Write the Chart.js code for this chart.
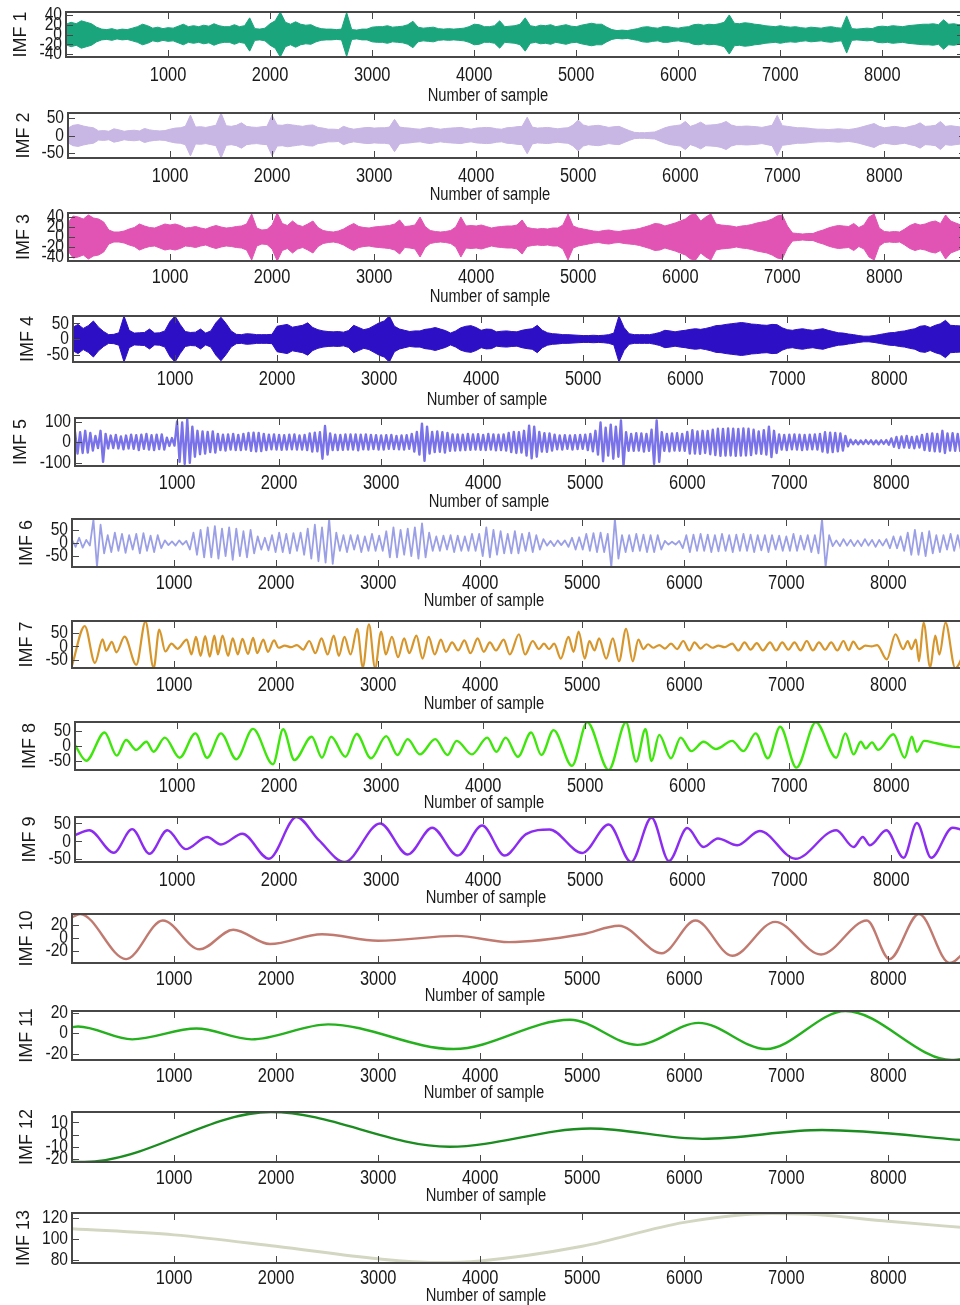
<!DOCTYPE html>
<html>
<head>
<meta charset="utf-8">
<title>IMF decomposition</title>
<script src="https://cdn.jsdelivr.net/npm/chart.js@4.4.1/dist/chart.umd.min.js"></script>
<style>
  html, body { margin: 0; padding: 0; background: #fff; overflow: hidden; }
  #wrap { position: relative; width: 960px; height: 1305px; overflow: hidden; }
  #wrap canvas { position: absolute; left: 0; }
</style>
</head>
<body>
<div id="wrap"></div>
<script>
// ---------- data ----------
const SAMPLE_MAX = 8800;
const xTicks = [1000, 2000, 3000, 4000, 5000, 6000, 7000, 8000];
const xTitle = 'Number of sample';

// y tick labels of each component
const imf1Ticks = [40, 20, 0, -20, -40];
const imf2Ticks = [50, 0, -50];
const imf3Ticks = [40, 20, 0, -20, -40];
const imf4Ticks = [50, 0, -50];
const imf5Ticks = [100, 0, -100];
const imf6Ticks = [50, 0, -50];
const imf7Ticks = [50, 0, -50];
const imf8Ticks = [50, 0, -50];
const imf9Ticks = [50, 0, -50];
const imf10Ticks = [20, 0, -20];
const imf11Ticks = [20, 0, -20];
const imf12Ticks = [10, 0, -10, -20];
const imf13Ticks = [120, 100, 80];

// IMF 1-4: oscillation envelope (peak amplitude), one value every BAND_STEP samples
const BAND_STEP = 50;
const imf1Amp = [
  21,25,22,28,25,22,15,11,10,12,9,11,10,13,16,21,18,13,15,12,
  14,13,17,21,16,18,16,19,17,22,18,16,16,20,16,18,34,12,11,13,
  22,28,46,25,21,26,21,19,20,15,12,11,11,10,11,45,10,9,11,11,
  15,16,16,18,15,16,17,20,27,15,13,14,15,12,11,12,11,12,13,16,
  21,20,16,16,18,28,16,17,18,21,34,18,16,19,18,20,16,18,20,17,
  16,19,21,23,21,21,15,10,8,9,8,10,12,15,16,14,13,16,16,14,
  13,15,16,20,21,19,21,20,22,25,40,23,22,24,23,21,20,18,17,16,
  18,16,15,16,14,13,15,14,13,15,16,14,13,38,12,11,12,13,12,16,
  17,16,18,17,16,18,19,20,21,21,22,20,30,21,22,20,21
];
const imf2Amp = [
  21,29,31,27,24,22,13,14,12,19,16,12,14,15,13,20,16,14,13,14,
  18,21,22,26,58,24,25,23,26,29,64,28,26,29,36,26,24,23,25,26,
  58,30,29,32,30,28,26,29,30,23,21,18,18,17,26,21,18,20,22,23,
  21,22,22,24,46,24,22,21,19,18,21,23,20,18,20,21,22,23,20,18,
  21,22,23,22,19,18,22,23,25,26,52,24,21,22,23,21,19,21,22,30,
  44,30,26,28,29,26,23,25,26,20,14,9,8,8,9,10,16,22,26,28,
  30,40,26,31,38,29,30,31,34,40,30,26,26,27,26,25,23,26,29,57,
  28,26,24,22,22,21,19,18,18,17,18,19,18,17,19,22,26,30,34,26,
  22,24,26,24,22,26,29,36,26,27,29,40,26,28,26,24,25
];
const imf3Amp = [
  28,42,40,36,44,38,36,30,14,10,10,12,16,19,26,22,19,18,22,26,
  24,26,23,18,19,21,18,16,20,23,20,18,19,21,22,26,46,18,14,15,
  24,48,27,23,32,24,21,26,32,19,13,11,10,12,16,22,27,21,19,18,
  20,21,22,23,26,34,21,22,24,40,21,13,11,10,11,13,20,40,22,23,
  22,24,21,18,20,21,22,22,24,34,19,17,16,17,16,18,18,24,46,22,
  18,16,14,12,11,13,14,12,11,13,14,15,17,20,23,27,26,22,25,28,
  32,36,44,46,32,40,46,26,24,23,22,20,22,23,25,28,30,32,36,42,
  44,22,8,7,6,7,7,11,14,18,21,23,22,21,27,19,24,40,46,18,
  11,10,11,10,16,23,27,24,26,30,32,27,44,32,28,24,26
];
const imf4Amp = [
  38,47,34,43,58,38,24,14,15,20,74,28,19,20,21,32,19,20,26,56,
  74,47,24,21,22,32,19,26,52,70,50,26,15,14,17,16,14,14,14,15,
  41,44,47,38,41,44,52,37,30,26,24,23,24,22,27,44,37,30,34,43,
  52,58,74,41,32,28,24,26,26,31,33,37,32,27,19,26,36,41,43,37,
  28,32,31,23,25,26,24,23,28,31,33,44,28,20,17,16,14,14,13,12,
  11,11,12,11,12,14,19,74,37,17,14,14,14,14,17,21,28,26,23,26,
  28,31,33,31,34,38,43,44,47,49,51,53,51,48,47,45,44,47,46,36,
  30,28,31,33,30,28,31,33,28,24,20,19,16,14,11,9,9,11,14,17,
  20,21,24,26,30,33,41,43,37,44,49,60,44,43,42,39,37
];

// IMF 5-6: successive extrema, one every IMF5_STEP / IMF6_STEP samples
const IMF5_STEP = 25;
const imf5Ext = [
  50,-55,48,-52,55,-50,45,-40,30,-28,55,-95,
  40,-30,32,-28,35,-30,28,-34,32,-30,36,-32,
  34,-38,36,-32,40,-36,34,-38,36,-33,38,-35,
  22,-18,20,-16,100,-95,95,-105,110,-100,75,-70,
  55,-58,52,-55,50,-48,52,-50,40,-38,36,-40,
  38,-36,40,-38,35,-38,40,-36,45,-42,46,-44,
  45,-43,40,-38,36,-34,38,-36,35,-37,34,-36,
  36,-34,38,-35,33,-36,35,-38,42,-45,46,-44,
  48,-80,78,-60,42,-38,36,-38,35,-37,38,-36,
  38,-35,37,-39,36,-34,38,-36,35,-33,34,-36,
  33,-35,34,-32,35,-33,30,-34,33,-35,34,-32,
  40,-45,50,-60,90,-90,75,-55,50,-48,52,-46,
  48,-50,45,-42,38,-40,37,-39,36,-38,40,-37,
  38,-36,39,-37,35,-38,40,-36,38,-39,36,-38,
  38,-40,45,-48,50,-52,48,-50,55,-65,80,-78,
  75,-70,50,-45,44,-46,42,-40,36,-34,33,-35,
  34,-32,33,-35,34,-33,35,-32,36,-38,40,-44,
  55,-60,95,-92,70,-65,85,-80,75,-70,105,-115,
  48,-42,40,-42,44,-40,42,-45,40,-42,60,-105,
  105,-95,48,-42,40,-44,42,-40,43,-41,40,-42,
  50,-55,58,-55,52,-56,55,-52,54,-58,60,-62,
  65,-66,64,-65,66,-64,65,-66,64,-65,66,-64,
  65,-62,60,-55,52,-56,58,-60,75,-72,55,-52,
  38,-36,35,-38,36,-34,37,-35,36,-38,35,-36,
  36,-34,38,-36,40,-45,48,-50,46,-48,45,-44,
  42,-40,30,-20,12,-10,9,-10,8,-9,10,-8,
  9,-10,8,-10,9,-8,10,-12,18,-22,25,-28,
  28,-26,30,-27,25,-29,28,-26,35,-38,40,-42,
  42,-44,40,-45,55,-52,42,-40,44,-42,40,-43,
  42,-40,38,-40,42
];

const IMF6_STEP = 35;
const imf6Ext = [
  12,-15,20,-18,12,-10,90,-92,70,-40,
  30,-35,40,-30,35,-38,30,-25,35,-40,
  38,-30,28,-35,30,-20,10,-8,6,-10,
  10,-6,8,-25,40,-45,50,-55,60,-55,
  65,-60,55,-50,60,-65,55,-50,45,-55,
  50,-40,25,-25,20,-28,30,-35,40,-35,
  35,-40,38,-30,40,-45,55,-60,70,-70,
  60,-75,92,-80,40,-30,30,-35,30,-25,
  30,-35,25,-30,35,-30,28,-30,45,-55,
  60,-55,50,-45,55,-50,60,-60,75,-55,
  40,-30,25,-30,28,-25,30,-35,28,-30,
  25,-30,35,-30,35,-50,60,-55,50,-45,
  45,-40,35,-40,45,-40,35,-30,40,-35,
  30,-25,15,-10,8,-12,10,-8,10,-15,
  20,-25,22,-25,35,-30,38,-35,40,-35,
  35,-92,92,-60,30,-35,30,-32,35,-30,
  32,-35,30,-35,30,-25,8,-6,5,-6,
  8,-20,30,-35,32,-30,35,-30,32,-35,
  30,-32,35,-30,30,-35,32,-30,35,-30,
  32,-35,30,-28,30,-35,30,-25,28,-30,
  25,-30,35,-30,28,-25,30,-35,30,-40,
  92,-92,30,-12,10,-12,15,-10,12,-12,
  10,-12,15,-10,12,-15,12,-10,15,-20,
  25,-20,25,-30,40,-45,50,-45,40,-50,
  45,-40,30,-35,30,-25,35,-30,30,-35,
  30,-30
];

// IMF 7-13: extrema and turning points, [sample, value]
const imf7Ext = [[0,-71],[125,75],[225,-61],[300,26],[335,-16],[390,17],[435,-22],[515,36],[630,-68],[720,92],[800,-80],[855,62],[915,-19],[975,10],[1035,-9],[1125,25],[1170,-30],[1215,35],[1260,-35],[1305,38],[1350,-38],[1395,40],[1430,-30],[1475,40],[1530,-35],[1575,30],[1625,-30],[1670,28],[1725,-28],[1775,32],[1815,-25],[1875,25],[1920,-20],[1980,22],[2025,-5],[2085,3],[2145,-3],[2205,5],[2265,-12],[2325,20],[2385,-25],[2445,30],[2505,-30],[2565,40],[2615,-35],[2670,35],[2730,-30],[2795,65],[2850,-78],[2910,82],[2970,-80],[3030,55],[3075,-30],[3135,35],[3195,-40],[3255,30],[3305,-25],[3375,40],[3435,-45],[3495,35],[3555,-30],[3615,25],[3665,-20],[3725,15],[3785,-15],[3845,22],[3905,-25],[3975,30],[4035,-20],[4095,15],[4155,-15],[4230,25],[4290,-30],[4380,45],[4440,-30],[4515,20],[4575,-10],[4625,10],[4675,-10],[4725,10],[4790,-45],[4865,35],[4915,-20],[4965,55],[5025,-45],[5070,20],[5120,-15],[5165,30],[5235,-45],[5300,30],[5360,-55],[5430,65],[5495,-55],[5550,25],[5600,-10],[5645,8],[5695,-5],[5755,5],[5810,-8],[5870,10],[5930,-10],[5990,20],[6050,-15],[6100,15],[6160,-8],[6215,8],[6275,-5],[6335,3],[6395,-3],[6470,10],[6530,-15],[6590,15],[6650,-12],[6710,12],[6770,-15],[6840,15],[6900,-15],[6960,15],[7020,-12],[7080,15],[7140,-15],[7200,20],[7260,-15],[7320,15],[7380,-12],[7440,15],[7500,-15],[7560,20],[7610,-15],[7655,18],[7715,-10],[7775,3],[7835,0],[7890,5],[7985,-48],[8070,45],[8145,-10],[8190,20],[8225,-10],[8270,25],[8300,-55],[8345,88],[8410,-78],[8460,40],[8500,-30],[8560,88],[8655,-80],[8800,45]];

const imf8Ext = [[0,3],[110,-49],[290,45],[410,-32],[500,20],[600,-13],[700,14],[770,-19],[880,28],[1025,-39],[1180,42],[1295,-39],[1430,42],[1580,-44],[1745,57],[1940,-61],[2040,56],[2150,-47],[2320,31],[2420,-39],[2510,31],[2650,-36],[2760,40],[2900,-41],[3050,33],[3160,-30],[3260,23],[3380,-28],[3530,23],[3650,-30],[3740,17],[3890,-28],[4040,28],[4130,-19],[4220,28],[4340,-36],[4470,45],[4570,-30],[4690,53],[4870,-66],[5020,79],[5230,-80],[5400,79],[5500,-52],[5590,56],[5650,-50],[5725,37],[5840,-41],[5935,28],[6040,-17],[6160,14],[6280,-10],[6440,17],[6550,-17],[6670,42],[6790,-41],[6910,64],[7070,-72],[7260,79],[7460,-39],[7550,42],[7630,-28],[7700,14],[7750,-8],[7810,12],[7870,-13],[8020,39],[8130,-39],[8200,31],[8250,-19],[8320,17],[8440,9],[8600,-2],[8800,-6]];

const imf9Ext = [[0,17],[140,31],[380,-32],[560,34],[730,-35],[905,31],[1085,-22],[1295,12],[1430,-9],[1640,21],[1900,-49],[2170,68],[2390,3],[2640,-58],[2990,50],[3260,-37],[3500,38],[3750,-40],[3990,44],[4210,-40],[4420,20],[4650,33],[4970,-33],[5230,47],[5450,-58],[5650,66],[5820,-55],[6000,37],[6160,-16],[6300,8],[6490,-11],[6710,29],[7060,-49],[7460,31],[7630,-16],[7720,12],[7790,-11],[7950,31],[8120,-46],[8250,51],[8390,-46],[8600,38],[8800,20]];

const imf10Ext = [[0,32],[80,37],[530,-32],[890,27],[1250,-17],[1580,13],[1940,-9],[2450,6],[3000,-4],[3770,3.5],[4280,-6],[5000,6],[5360,19],[5780,-23],[6110,27],[6470,-27],[6890,25],[7340,-25],[7790,27],[8010,-32],[8300,37],[8600,-38],[8800,-12]];

const imf11Ext = [[0,5.8],[60,6.5],[590,-6],[1220,4.5],[1760,-6],[2510,8.5],[3740,-15.4],[4880,13],[5540,-11.3],[6140,10],[6800,-15.4],[7580,21.5],[8620,-26],[8800,-24]];

const imf12Ext = [[0,-22.3],[120,-22.5],[1950,18.5],[3700,-10],[5080,5],[6180,-3.5],[7350,3.7],[8800,-5]];

const imf13Ext = [[0,110],[1000,104],[2000,93],[3000,81],[3550,77.5],[4000,79],[5000,93],[6000,116],[6850,124.5],[7200,124],[8000,117],[8800,110.5]];

// ---------- panel styling and placement ----------
const ARIAL = "'Liberation Sans', Arial, sans-serif";
const NARROW_SCALE = 0.82;   // horizontal squeeze of the tick / caption lettering
const TEXT = '#1a1a1a';
const FRAME = '#474747';
const PLOT_W = 898;          // pixels spanned by 0..SAMPLE_MAX
const CANVAS_W = 990;
const PAD_T = 8;
const BOTTOM_SPACE = 48;

const panels = [
  { name: 'IMF 1',  kind: 'band',   src: imf1Amp,  ticks: imf1Ticks,  color: '#1ba57d', yMin: -46,  yMax: 46,  x0: 66, top: 12,   bottom: 57,   titleX: 21, xTitleX: 488, tickOff: 18, titleOff: 39 },
  { name: 'IMF 2',  kind: 'band',   src: imf2Amp,  ticks: imf2Ticks,  color: '#c8b6e4', yMin: -64,  yMax: 64,  x0: 68, top: 113,  bottom: 158,  titleX: 24, xTitleX: 490, tickOff: 18, titleOff: 37 },
  { name: 'IMF 3',  kind: 'band',   src: imf3Amp,  ticks: imf3Ticks,  color: '#e254b4', yMin: -48,  yMax: 48,  x0: 68, top: 213,  bottom: 261,  titleX: 24, xTitleX: 490, tickOff: 16, titleOff: 36 },
  { name: 'IMF 4',  kind: 'band',   src: imf4Amp,  ticks: imf4Ticks,  color: '#2d10c6', yMin: -74,  yMax: 74,  x0: 73, top: 316,  bottom: 362,  titleX: 28, xTitleX: 487, tickOff: 17, titleOff: 38 },
  { name: 'IMF 5',  kind: 'zigzag', src: imf5Ext,  step: IMF5_STEP, ticks: imf5Ticks, color: '#7a72e8', yMin: -115, yMax: 117, x0: 75, top: 418, bottom: 466, titleX: 21, xTitleX: 489, tickOff: 17, titleOff: 36, width: 2.4 },
  { name: 'IMF 6',  kind: 'zigzag', src: imf6Ext,  step: IMF6_STEP, ticks: imf6Ticks, color: '#9b9fe6', yMin: -92,  yMax: 92,  x0: 72, top: 519, bottom: 567, titleX: 27, xTitleX: 484, tickOff: 16, titleOff: 34, width: 1.8 },
  { name: 'IMF 7',  kind: 'smooth', src: imf7Ext,  ticks: imf7Ticks,  color: '#d6962c', yMin: -80,  yMax: 94,  x0: 72, top: 621,  bottom: 668,  titleX: 27, xTitleX: 484, tickOff: 17, titleOff: 36, width: 2.2 },
  { name: 'IMF 8',  kind: 'smooth', src: imf8Ext,  ticks: imf8Ticks,  color: '#3fe60c', yMin: -80,  yMax: 80,  x0: 75, top: 722,  bottom: 770,  titleX: 30, xTitleX: 484, tickOff: 16, titleOff: 33, width: 2.4 },
  { name: 'IMF 9',  kind: 'smooth', src: imf9Ext,  ticks: imf9Ticks,  color: '#8b2cf0', yMin: -58,  yMax: 68,  x0: 75, top: 817,  bottom: 862,  titleX: 30, xTitleX: 486, tickOff: 18, titleOff: 36, width: 2.4 },
  { name: 'IMF 10', kind: 'smooth', src: imf10Ext, ticks: imf10Ticks, color: '#c17a70', yMin: -38,  yMax: 37,  x0: 72, top: 914,  bottom: 963,  titleX: 27, xTitleX: 485, tickOff: 16, titleOff: 33, width: 2.4 },
  { name: 'IMF 11', kind: 'smooth', src: imf11Ext, ticks: imf11Ticks, color: '#25b01d', yMin: -26,  yMax: 21.5, x0: 72, top: 1011, bottom: 1060, titleX: 27, xTitleX: 484, tickOff: 16, titleOff: 33, width: 2.4 },
  { name: 'IMF 12', kind: 'smooth', src: imf12Ext, ticks: imf12Ticks, color: '#1b8c1f', yMin: -22.5, yMax: 18.5, x0: 72, top: 1112, bottom: 1162, titleX: 27, xTitleX: 486, tickOff: 16, titleOff: 34, width: 2.4 },
  { name: 'IMF 13', kind: 'smooth', src: imf13Ext, ticks: imf13Ticks, color: '#d3d6c1', yMin: 77,   yMax: 125, x0: 72, top: 1213, bottom: 1263, titleX: 24, xTitleX: 486, tickOff: 15, titleOff: 33, width: 3 }
];

// narrow lettering: draw text squeezed horizontally around its anchor
function narrowText(ctx, text, x, y, align, size) {
  ctx.save();
  ctx.translate(x, y);
  ctx.scale(NARROW_SCALE, 1);
  ctx.font = size + 'px ' + ARIAL;
  ctx.textAlign = align;
  ctx.textBaseline = 'middle';
  ctx.fillText(text, 0, 0);
  ctx.restore();
}

// box frame with inward ticks on all four sides, tick labels and the x caption
const framePlugin = {
  id: 'frame',
  afterDraw(chart, args, opts) {
    const { ctx, chartArea: a, scales: { x, y } } = chart;
    ctx.save();
    ctx.strokeStyle = FRAME;
    ctx.lineWidth = 1;
    const L = 7;
    ctx.beginPath();
    x.ticks.forEach(t => {
      const px = Math.round(x.getPixelForValue(t.value)) + 0.5;
      ctx.moveTo(px, a.top); ctx.lineTo(px, a.top + L);
      ctx.moveTo(px, a.bottom); ctx.lineTo(px, a.bottom - L);
    });
    y.ticks.forEach(t => {
      const py = Math.round(y.getPixelForValue(t.value)) + 0.5;
      ctx.moveTo(a.left, py); ctx.lineTo(a.left + L, py);
      ctx.moveTo(a.right, py); ctx.lineTo(a.right - L, py);
    });
    ctx.stroke();
    ctx.lineWidth = 2;
    ctx.strokeRect(a.left, a.top, a.right - a.left, a.bottom - a.top);

    ctx.fillStyle = TEXT;
    x.ticks.forEach(t => narrowText(ctx, String(t.value), x.getPixelForValue(t.value), a.bottom + opts.tickOff, 'center', 20));
    y.ticks.forEach(t => narrowText(ctx, String(t.value), a.left - 4, y.getPixelForValue(t.value), 'right', 19));
    narrowText(ctx, xTitle, opts.titleX, a.bottom + opts.titleOff, 'center', 18);
    ctx.restore();
  }
};

function buildDatasets(p) {
  if (p.kind === 'band') {
    const upper = p.src.map((a, i) => ({ x: i * BAND_STEP, y: a }));
    const lower = p.src.map((a, i) => ({ x: i * BAND_STEP, y: -a }));
    return [
      { data: upper, borderColor: p.color, backgroundColor: p.color, borderWidth: 1, fill: '+1' },
      { data: lower, borderColor: p.color, borderWidth: 1, fill: false }
    ];
  }
  if (p.kind === 'zigzag') {
    return [{ data: p.src.map((v, i) => ({ x: i * p.step, y: v })), borderColor: p.color, borderWidth: p.width, fill: false }];
  }
  return [{
    data: p.src.map(([s, v]) => ({ x: s, y: v })),
    borderColor: p.color, borderWidth: p.width, fill: false,
    cubicInterpolationMode: 'monotone'
  }];
}

const wrap = document.getElementById('wrap');
panels.forEach(p => {
  const plotH = p.bottom - p.top;
  const H = PAD_T + plotH + BOTTOM_SPACE;
  const cv = document.createElement('canvas');
  cv.width = CANVAS_W; cv.height = H;
  cv.style.width = CANVAS_W + 'px'; cv.style.height = H + 'px';
  cv.style.top = (p.top - PAD_T) + 'px';
  wrap.appendChild(cv);

  new Chart(cv, {
    type: 'line',
    data: { datasets: buildDatasets(p) },
    options: {
      responsive: false,
      animation: false,
      devicePixelRatio: 1,
      events: [],
      layout: { padding: { top: PAD_T, left: 0, bottom: 0, right: CANVAS_W - (p.x0 + PLOT_W) } },
      elements: { point: { radius: 0 }, line: { tension: 0, borderCapStyle: 'round', borderJoinStyle: 'round' } },
      plugins: {
        legend: { display: false },
        tooltip: { enabled: false },
        frame: { titleX: p.xTitleX, titleOff: p.titleOff, tickOff: p.tickOff }
      },
      scales: {
        x: {
          type: 'linear', min: 0, max: SAMPLE_MAX, bounds: 'data',
          grid: { display: false, drawTicks: false },
          border: { display: false },
          ticks: { display: false, autoSkip: false },
          afterBuildTicks: s => { s.ticks = xTicks.map(v => ({ value: v })); },
          afterFit: s => { s.height = BOTTOM_SPACE; }
        },
        y: {
          type: 'linear', min: p.yMin, max: p.yMax, bounds: 'data',
          grid: { display: false, drawTicks: false },
          border: { display: false },
          ticks: { display: false, autoSkip: false },
          title: {
            display: true, text: p.name, color: TEXT,
            font: { family: ARIAL, size: 18, lineHeight: 1.2 },
            padding: { top: p.titleX - 10.8, bottom: 0 }
          },
          afterBuildTicks: s => { s.ticks = p.ticks.map(v => ({ value: v })); },
          afterFit: s => { s.width = p.x0; }
        }
      }
    },
    plugins: [framePlugin]
  });
});
</script>
</body>
</html>
